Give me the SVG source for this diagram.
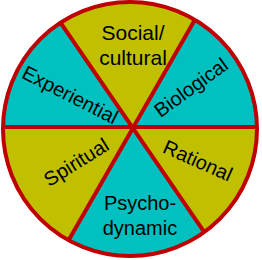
<svg xmlns="http://www.w3.org/2000/svg" width="262" height="260" viewBox="0 0 262 260">
<style>
.t{font-family:"Liberation Sans",Arial,sans-serif;font-size:20px;fill:#000;text-anchor:middle}
.teal{fill:#00C0C0}
.olive{fill:#C0C000}
.ln{stroke:#C00000;stroke-width:4;fill:none}
</style>
<defs>
<clipPath id="cc"><circle cx="130" cy="129" r="127"/></clipPath>
</defs>
<rect width="262" height="260" fill="#fff"/>
<g id="wheel">
<circle cx="130" cy="129" r="127" class="teal"/>
<g clip-path="url(#cc)">
<polygon class="olive" points="134,127 -12,-83 256,-87"/>
<polygon class="olive" points="134,127 320,127 314,392"/>
<polygon class="olive" points="134,127 -40,127 -28,409"/>
</g>
</g>
<g id="connectors" clip-path="url(#cc)">
<line class="ln" x1="0" y1="127" x2="262" y2="127"/>
<line class="ln" x1="-12" y1="-83" x2="314" y2="392"/>
<line class="ln" x1="256" y1="-87" x2="-28" y2="409"/>
</g>
<circle cx="130" cy="129" r="127" class="ln"/>
<g id="social"><text class="t" x="133" y="40" style="font-size:21px">Social/</text><text class="t" x="133" y="65" style="font-size:21px">cultural</text></g>
<g id="biological"><text class="t" transform="translate(195,93) rotate(-36)">Biological</text></g>
<g id="rational"><text class="t" transform="translate(195,167) rotate(24)">Rational</text></g>
<g id="psychodynamic"><text class="t" x="140" y="210">Psycho-</text><text class="t" x="140" y="235">dynamic</text></g>
<g id="spiritual"><text class="t" transform="translate(80,168) rotate(-32)">Spiritual</text></g>
<g id="experiential"><text class="t" transform="translate(67,101) rotate(27)">Experiential</text></g>
</svg>
